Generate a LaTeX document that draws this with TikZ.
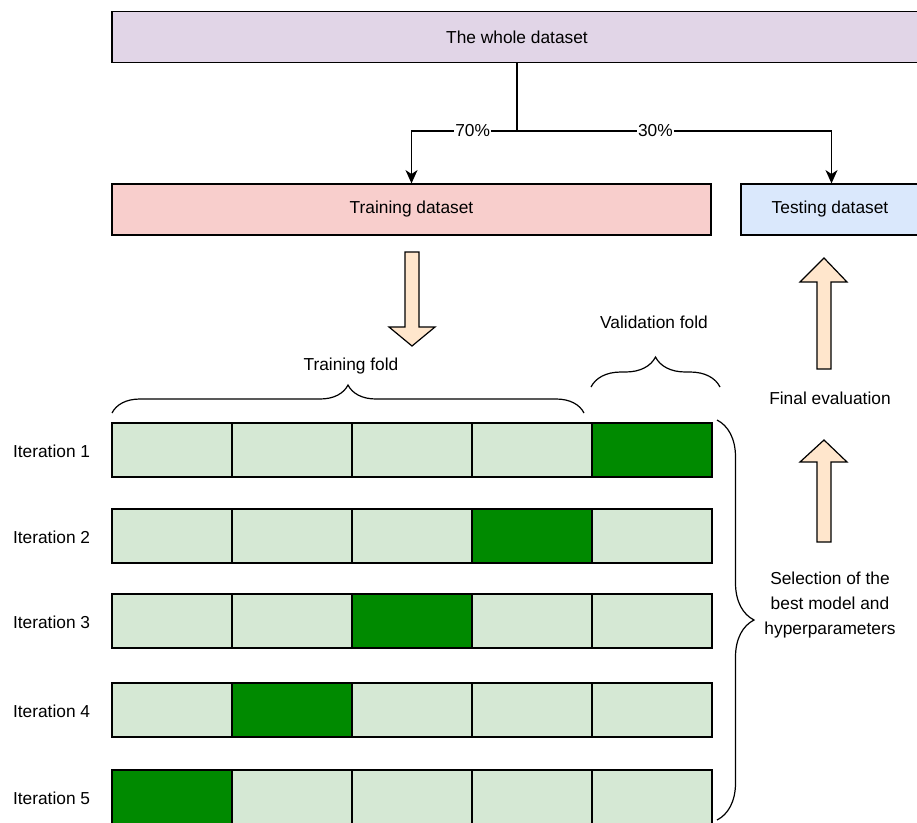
\documentclass[tikz,border=0pt]{standalone}
\usepackage{fontspec}
\setmainfont{Liberation Sans}
\usepackage{xcolor}
\usetikzlibrary{arrows.meta,positioning,decorations.pathreplacing}
\definecolor{wholepurple}{HTML}{E1D5E7}
\definecolor{trainpink}{HTML}{F8CECC}
\definecolor{testblue}{HTML}{DAE8FC}
\definecolor{foldgreen}{HTML}{D5E8D4}
\definecolor{valgreen}{HTML}{008A00}
\definecolor{peach}{HTML}{FFE6CC}

\begin{document}
\begin{tikzpicture}[x=0.75pt, y=-0.75pt,
    font=\fontsize{13}{15.6}\selectfont,
    every path/.style={line width=0.9pt},
    databox/.style={draw, minimum height=38.25pt, inner sep=0pt},
    foldcell/.style={draw, fill=foldgreen, minimum width=90pt, minimum height=40.5pt, inner sep=0pt},
    valcell/.style={foldcell, fill=valgreen},
    link/.style={-{Stealth[length=10pt, width=9pt, inset=3pt]}},
    pct/.style={fill=white, inner sep=1pt},
    bigarrow/.style={draw, fill=peach, line join=miter},
    curly/.style={decorate, decoration={brace, amplitude=#1, aspect=0.5}}]
    \useasboundingbox (0,0) rectangle (917,822);

    % datasets
    \node[databox, fill=wholepurple, minimum width=607.5pt] (whole) at (517,37) {The whole dataset};
    \node[databox, fill=trainpink, minimum width=449.25pt] (train) at (411.5,209.5) {Training dataset};
    \node[databox, fill=testblue, minimum width=135.75pt] (test) at (831.5,209.5) {};
    \node at (830,209.5) {Testing dataset};

    \coordinate (split) at (517,131);
    \draw (whole) -- (split);
    \draw[link] (split) -| node[pct, pos=0.21] {70\%} (train);
    \draw[link] (split) -| node[pct, pos=0.22] {30\%} (test);

    % fat arrows
    \draw[bigarrow] (405,252) -- (419,252) -- (419,327) -- (435,327) -- (412,346)
        -- (389,327) -- (405,327) -- cycle;
    \draw[bigarrow] (817,369) -- (817,282) -- (800,282) -- (824,258) -- (847,282)
        -- (831,282) -- (831,369) -- cycle;
    \draw[bigarrow] (817,542) -- (817,462) -- (800,462) -- (824,440) -- (847,462)
        -- (831,462) -- (831,542) -- cycle;

    % folds
    \foreach \r/\y in {1/450,2/536,3/621,4/710,5/797} {
        \node[anchor=west] (it\r) at (8,\y+1) {Iteration \r};
        \pgfmathtruncatemacro{\dark}{6-\r}
        \foreach \c in {1,...,5} {
            \ifnum\c=\dark
                \node[valcell] (c\r\c) at ({52+120*\c},\y) {};
            \else
                \node[foldcell] (c\r\c) at ({52+120*\c},\y) {};
            \fi
        }
    }

    % braces
    \coordinate (trL) at (112,413);
    \coordinate (trR) at (584,413);
    \coordinate (vaL) at (591,387);
    \coordinate (vaR) at (720,387);
    \coordinate (selT) at (717,420);
    \coordinate (selB) at (717,820);
    \draw[curly=21pt] (trL) -- (trR);
    \draw[curly=22.5pt] (vaL) -- (vaR);
    \draw[curly=27.75pt] (selT) -- (selB);

    \node (trainfold) at (351,366) {Training fold};
    \node (valfold) at (654,322) {Validation fold};
    \node (final) at (830,398) {Final evaluation};
    \node[align=center, font=\fontsize{13}{18.4}\selectfont] (select) at (830,605)
        {Selection of the\\best model and\\hyperparameters};
\end{tikzpicture}
\end{document}
